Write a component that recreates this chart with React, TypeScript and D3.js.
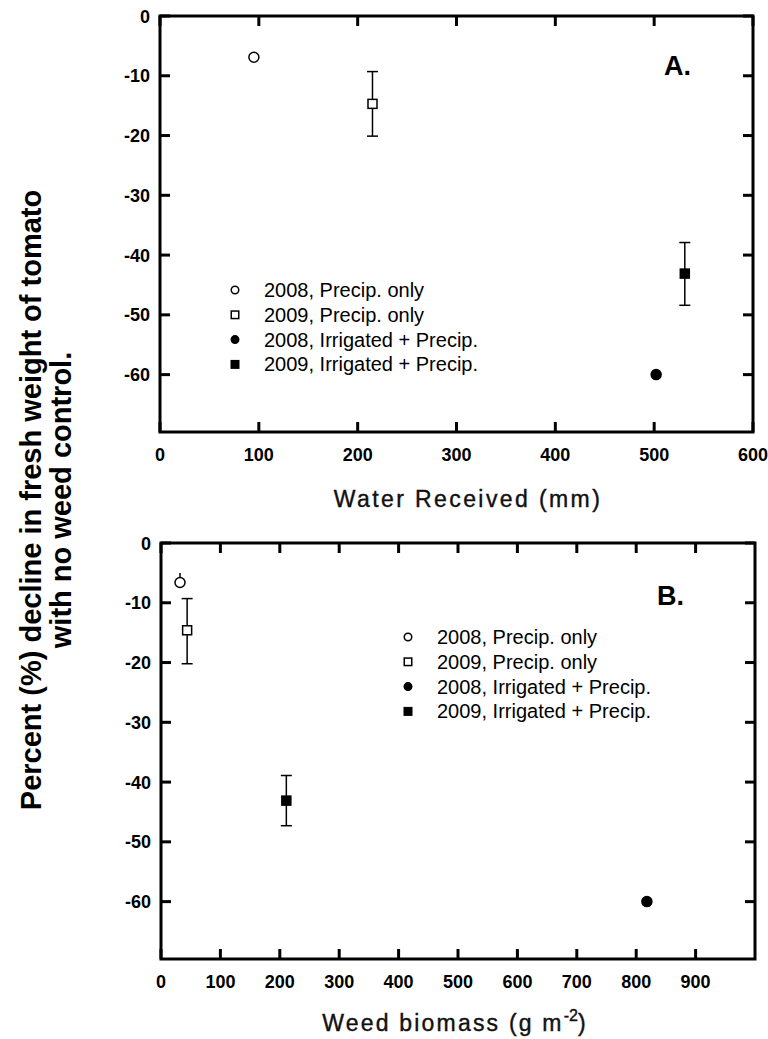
import React from "react";
import * as d3 from "d3";

// series (same order in both panels)
const seriesLabels = [
  "2008, Precip. only",
  "2009, Precip. only",
  "2008, Irrigated + Precip.",
  "2009, Irrigated + Precip.",
];

// panel A: water received (mm) vs % decline
const waterReceived = [95, 215, 502, 531];
const declineA = [-6.9, -14.7, -60.0, -43.1];
const errTopA = [null, -9.3, null, -37.9];
const errBottomA = [null, -20.1, null, -48.4];

// panel B: weed biomass (g m-2) vs % decline
const weedBiomass = [32, 44, 818, 211];
const declineB = [-6.6, -14.6, -60.0, -43.1];
const errTopB = [-5.0, -9.3, null, -38.9];
const errBottomB = [null, -20.2, null, -47.3];

const yTicks = [0, -10, -20, -30, -40, -50, -60];
const xTicksA = [0, 100, 200, 300, 400, 500, 600];
const xTicksB = [0, 100, 200, 300, 400, 500, 600, 700, 800, 900];

// marker look per series
const markerShape = ["circle", "square", "circle", "square"];
const markerFilled = [false, false, true, true];

const FONT = "'Liberation Sans', Arial, Helvetica, sans-serif";
const yMin = -69.6;

const Marker = ({ shape, filled, cx, cy, size }) => {
  const sw = 1.5;
  if (shape === "circle") {
    return (
      <circle cx={cx} cy={cy} r={size / 2} fill={filled ? "#000" : "#fff"} stroke="#000" strokeWidth={sw} />
    );
  }
  return (
    <rect x={cx - size / 2} y={cy - size / 2} width={size} height={size}
      fill={filled ? "#000" : "#fff"} stroke="#000" strokeWidth={sw} />
  );
};

const Panel = ({ x, y, xTicks, xs, ys, errTop, errBottom, tag, tagPos, legendPos, title }) => {
  const [x0, x1] = x.range();
  const [yb, yt] = y.range();
  const tickLen = 10;
  const cap = 5.5;

  return (
    <g>
      {/* frame */}
      <rect x={x0} y={yt} width={x1 - x0} height={yb - yt} fill="none" stroke="#000" strokeWidth={3} />

      {/* inward ticks, all four sides */}
      <g stroke="#000" strokeWidth={3}>
        {xTicks.map((t) => (
          <g key={"xt" + t}>
            <line x1={x(t)} x2={x(t)} y1={yb} y2={yb - tickLen} />
            <line x1={x(t)} x2={x(t)} y1={yt} y2={yt + tickLen} />
          </g>
        ))}
        {yTicks.map((t) => (
          <g key={"yt" + t}>
            <line x1={x0} x2={x0 + tickLen} y1={y(t)} y2={y(t)} />
            <line x1={x1} x2={x1 - tickLen} y1={y(t)} y2={y(t)} />
          </g>
        ))}
      </g>

      {/* tick labels */}
      <g fontFamily={FONT} fontWeight="bold" fontSize={18} fill="#000">
        {xTicks.map((t) => (
          <text key={"xl" + t} x={x(t)} y={yb + 29} textAnchor="middle">{String(t)}</text>
        ))}
        {yTicks.map((t) => (
          <text key={"yl" + t} x={x0 - 10} y={y(t) + 6.5} textAnchor="end">{String(t)}</text>
        ))}
      </g>

      {/* error bars */}
      {xs.map((d, i) => {
        const cx = x(d);
        const top = errTop[i];
        const bot = errBottom[i];
        if (top == null && bot == null) return null;
        const yTop = top == null ? y(ys[i]) : y(top);
        const yBot = bot == null ? y(ys[i]) : y(bot);
        const withCaps = top != null && bot != null;
        return (
          <g key={"e" + i} stroke="#000" strokeWidth={1.5}>
            <line x1={cx} x2={cx} y1={yTop} y2={yBot} />
            {withCaps && <line x1={cx - cap} x2={cx + cap} y1={yTop} y2={yTop} />}
            {withCaps && <line x1={cx - cap} x2={cx + cap} y1={yBot} y2={yBot} />}
          </g>
        );
      })}

      {/* points */}
      {xs.map((d, i) => (
        <Marker key={"p" + i} shape={markerShape[i]} filled={markerFilled[i]}
          cx={x(d)} cy={y(ys[i])} size={markerShape[i] === "circle" ? 10 : 9} />
      ))}

      {/* panel tag */}
      <text x={tagPos[0]} y={tagPos[1]} fontFamily={FONT} fontWeight="bold" fontSize={27} fill="#000">{tag}</text>

      {/* legend */}
      {seriesLabels.map((s, i) => (
        <g key={"l" + i} transform={`translate(${legendPos[0]},${legendPos[1] + i * 24.8})`}>
          <Marker shape={markerShape[i]} filled={markerFilled[i]} cx={0} cy={0} size={7.5} />
          <text x={29} y={7} fontFamily={FONT} fontSize={20} fill="#000">{s}</text>
        </g>
      ))}

      {title}
    </g>
  );
};

export default function App() {
  const xA = d3.scaleLinear().domain([0, 600]).range([160, 753]);
  const yA = d3.scaleLinear().domain([yMin, 0]).range([432, 16]);
  const xB = d3.scaleLinear().domain([0, 1000]).range([161, 755]);
  const yB = d3.scaleLinear().domain([yMin, 0]).range([959, 543]);

  return (
    <svg width={768} height={1039} style={{ position: "absolute", left: 0, top: 0, background: "#fff" }}>
      <rect width={768} height={1039} fill="#fff" />

      <Panel x={xA} y={yA} xTicks={xTicksA} xs={waterReceived} ys={declineA}
        errTop={errTopA} errBottom={errBottomA} tag="A." tagPos={[664, 75]} legendPos={[235, 290]}
        title={
          <text x={468} y={507} textAnchor="middle" fontFamily={FONT} fontSize={23} letterSpacing={2.4}
            fill="#111" stroke="#111" strokeWidth={0.4}>
            Water Received (mm)
          </text>
        } />

      <Panel x={xB} y={yB} xTicks={xTicksB} xs={weedBiomass} ys={declineB}
        errTop={errTopB} errBottom={errBottomB} tag="B." tagPos={[657, 605]} legendPos={[408, 637]}
        title={
          <text x={455} y={1031} textAnchor="middle" fontFamily={FONT} fontSize={23} letterSpacing={2.2}
            fill="#111" stroke="#111" strokeWidth={0.4}>
            Weed biomass (g m
            <tspan fontSize={16} dy={-10} letterSpacing={0}>-2</tspan>
            <tspan dy={10}>)</tspan>
          </text>
        } />

      {/* shared y axis title */}
      <g transform="translate(0,500) rotate(-90)" fontFamily={FONT} fontWeight="bold" fontSize={29} fill="#000">
        <text x={0} y={41} textAnchor="middle">Percent (%) decline in fresh weight of tomato</text>
        <text x={0} y={71} textAnchor="middle">with no weed control.</text>
      </g>
    </svg>
  );
}
